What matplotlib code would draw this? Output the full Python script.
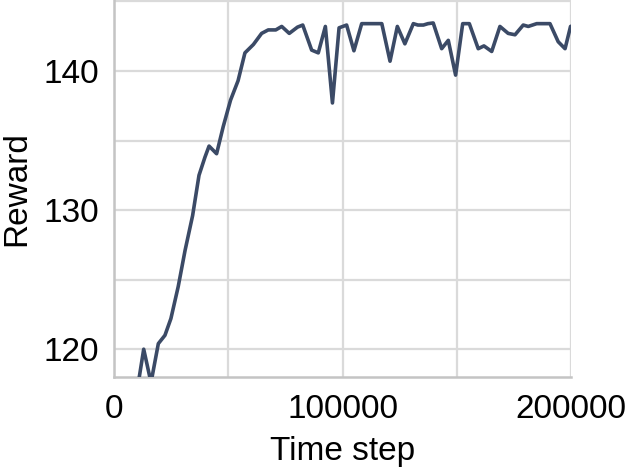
import numpy as np
import matplotlib.pyplot as plt
from matplotlib.ticker import MultipleLocator

plt.rcParams['font.family'] = ['Liberation Sans', 'DejaVu Sans']

# evaluation curve
steps = [10000, 13000, 16200, 19400, 22300, 24900, 28100, 31100, 34400, 37200,
         39800, 41600, 44900, 47800, 51000, 54300, 57300, 61000, 64600, 67500,
         70800, 73400, 76700, 80300, 82600, 86500, 89400, 92500, 95600, 98500,
         101800, 105000, 108400, 111300, 114200, 117200, 120800, 124000, 127300, 131000,
         133000, 135400, 137400, 139700, 143400, 146300, 149500, 152600, 155500, 159400,
         161900, 165300, 168900, 172500, 175500, 179100, 181300, 185000, 187700, 190800,
         194400, 197400, 199800, 202000]
reward = [116.9, 120.0, 117.6, 120.4, 121.0, 122.2, 124.5, 127.1, 129.6, 132.5,
          133.8, 134.6, 134.05, 136.0, 137.9, 139.3, 141.3, 141.9, 142.7, 142.95,
          142.95, 143.2, 142.7, 143.15, 143.3, 141.5, 141.3, 143.2, 137.7, 143.1,
          143.3, 141.45, 143.4, 143.4, 143.4, 143.4, 140.7, 143.2, 141.95, 143.4,
          143.3, 143.3, 143.4, 143.45, 141.6, 142.2, 139.7, 143.4, 143.4, 141.6,
          141.8, 141.4, 143.2, 142.7, 142.6, 143.3, 143.2, 143.4, 143.4, 143.4,
          142.1, 141.6, 143.2, 143.3]

fig = plt.figure(figsize=(6.25, 4.68), dpi=100)
ax = fig.add_axes([0.1824, 0.1944, 0.7312, 0.8056])

ax.plot(steps, reward, color='#3b4a66', linewidth=2.6, solid_joinstyle='round', zorder=3)

ax.set_xlim(0, 200000)
ax.set_ylim(118.0, 145.1)

ax.xaxis.set_major_locator(MultipleLocator(100000))
ax.xaxis.set_minor_locator(MultipleLocator(50000))
ax.yaxis.set_major_locator(MultipleLocator(10))
ax.yaxis.set_minor_locator(MultipleLocator(5))
ax.grid(True, which='both', color='#dadada', linewidth=1.6, zorder=0)
ax.set_axisbelow(True)

ax.tick_params(which='both', length=0)
ax.tick_params(axis='x', pad=12, labelsize=24)
ax.tick_params(axis='y', pad=11, labelsize=24)

for side in ['top', 'right']:
    ax.spines[side].set_visible(False)
for side in ['left', 'bottom']:
    ax.spines[side].set_color('#c4c4c4')
    ax.spines[side].set_linewidth(1.8)

ax.set_xlabel('Time step', fontsize=24, labelpad=8)
ax.set_ylabel('Reward', fontsize=24, labelpad=8)

fig.savefig('out.png', dpi=100)
